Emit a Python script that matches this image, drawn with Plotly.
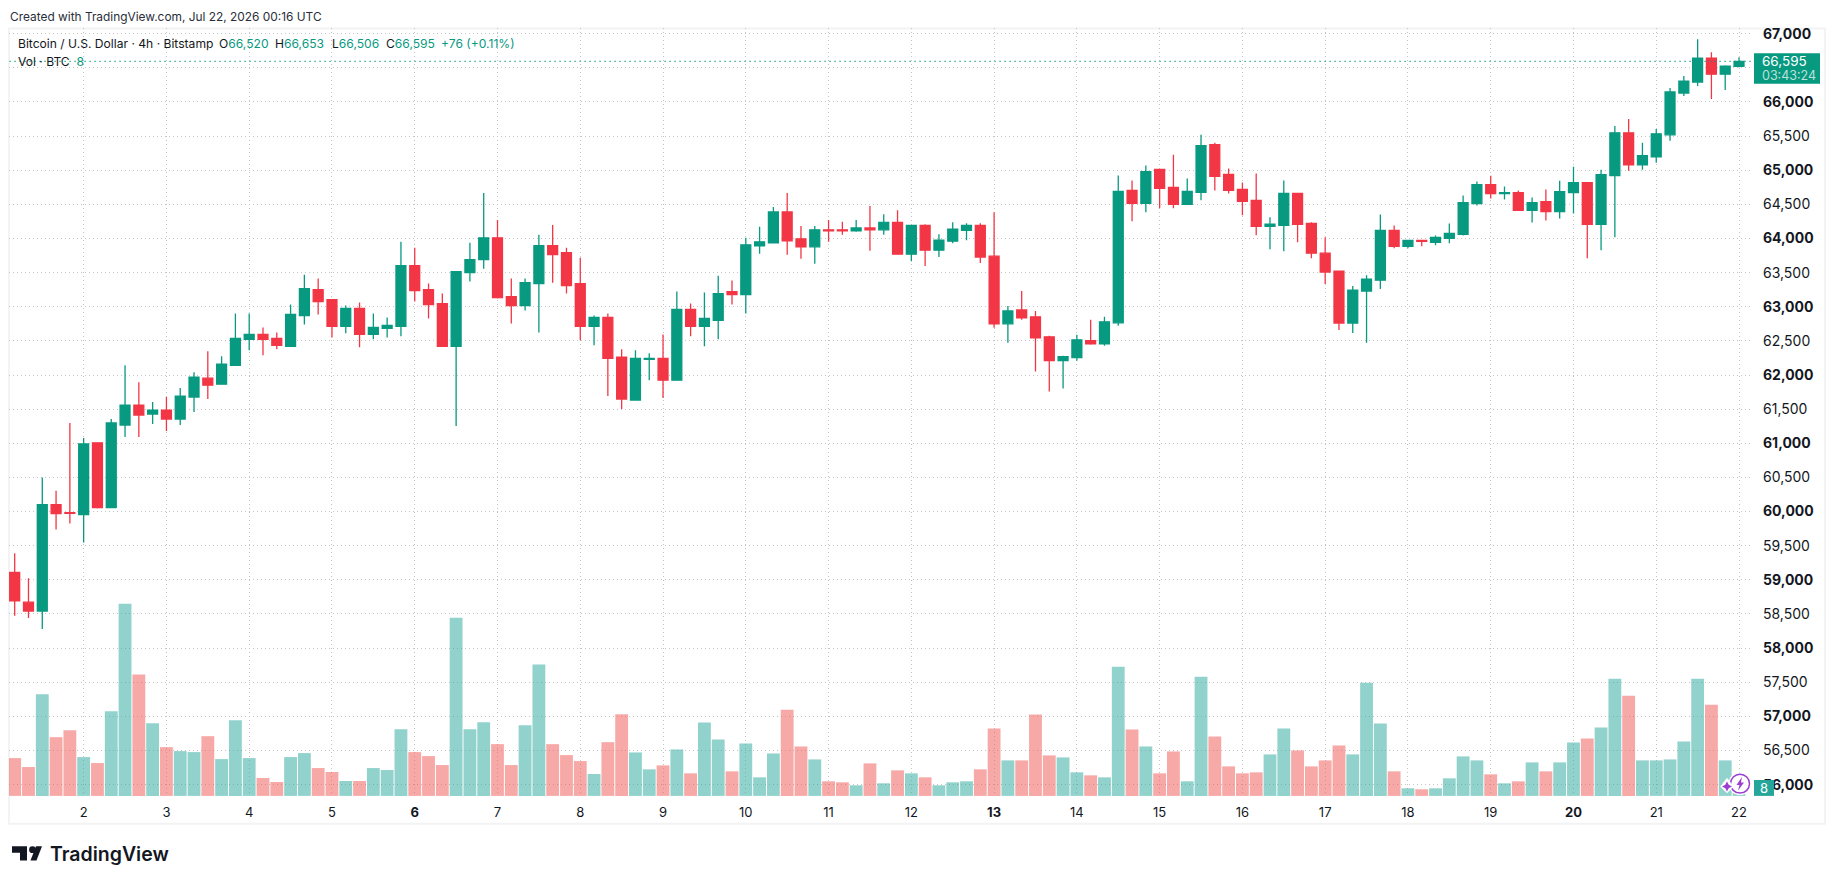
import pandas as pd
import plotly.graph_objects as go

WIDTH, HEIGHT = 1835, 886
TOP_OFFSET = 2.5
GREEN, RED = "#089981", "#F23645"
VOL_GREEN, VOL_RED = "rgba(38,166,154,0.5)", "rgba(239,83,80,0.5)"
INK = "#131722"
FONT = "Inter, 'Liberation Sans', sans-serif"

# 4-hour BTC/USD candles from Bitstamp, 1 July 04:00 UTC onwards
opens = [
    59110, 58673, 58542, 60102, 59985, 59956, 61006, 60058, 61268, 61560, 61429, 61487,
    61356, 61677, 61954, 61866, 62143, 62522, 62595, 62537, 62420, 62872, 63251, 63105,
    62712, 62974, 62595, 62683, 62712, 63601, 63251, 63047, 62420, 63499, 63689, 64009,
    63149, 63018, 63339, 63893, 63791, 63339, 62712, 62843, 62260, 61633, 62231, 62245,
    61925, 62960, 62712, 62799, 63222, 63178, 63893, 63937, 64388, 63995, 63878, 64126,
    64126, 64111, 64155, 64126, 64237, 63770, 64193, 63829, 63960, 64120, 64193, 63741,
    62750, 62954, 62852, 62560, 62210, 62254, 62502, 62458, 62764, 64703, 64514, 65010,
    64747, 64499, 64674, 65374, 64937, 64718, 64558, 64179, 64193, 64660, 64222, 63785,
    63520, 62762, 63229, 63389, 64118, 63885, 63972, 63943, 64002, 64060, 64512, 64789,
    64658, 64672, 64410, 64541, 64395, 64672, 64818, 64206, 64920, 65547, 65080, 65197,
    65518, 66130, 66291, 66640, 66407, 66520,
]
highs = [
    59388, 59023, 60500, 60306, 61297, 61079, 61006, 61356, 62143, 61895, 61604, 61677,
    61808, 62041, 62347, 62274, 62901, 62901, 62697, 62624, 63032, 63470, 63412, 63105,
    63018, 63062, 62901, 62843, 63951, 63864, 63339, 63193, 63513, 63936, 64665, 64272,
    63412, 63412, 64053, 64199, 63864, 63718, 62872, 62901, 62376, 62362, 62318, 62595,
    63222, 63047, 63208, 63455, 63383, 64009, 64170, 64461, 64665, 64184, 64184, 64272,
    64243, 64272, 64476, 64353, 64412, 64193, 64208, 64062, 64237, 64222, 64222, 64383,
    63012, 63231, 62939, 62575, 62283, 62589, 62808, 62852, 64922, 64849, 65068, 65010,
    65228, 64878, 65520, 65403, 65024, 64820, 64951, 64310, 64849, 64660, 64237, 64018,
    63520, 63302, 63462, 64351, 64191, 63972, 63972, 64045, 64220, 64629, 64833, 64920,
    64760, 64701, 64599, 64716, 64847, 65051, 64818, 65008, 65649, 65751, 65401, 65605,
    66203, 66378, 66918, 66728, 66538, 66653,
]
lows = [
    58474, 58440, 58279, 59737, 59825, 59548, 60044, 60058, 61093, 61093, 61283, 61181,
    61268, 61458, 61647, 61866, 62143, 62362, 62289, 62376, 62420, 62741, 62887, 62551,
    62610, 62406, 62522, 62551, 62566, 63076, 62828, 62420, 61254, 63368, 63558, 63120,
    62755, 62945, 62624, 63353, 63193, 62508, 62435, 61691, 61502, 61633, 61925, 61662,
    61925, 62566, 62420, 62522, 63033, 62901, 63776, 63937, 63762, 63703, 63630, 63951,
    64053, 64097, 63820, 64053, 63770, 63668, 63595, 63727, 63931, 63974, 63639, 62691,
    62473, 62808, 62050, 61758, 61802, 62210, 62444, 62429, 62720, 64251, 64383, 64441,
    64441, 64499, 64558, 64703, 64660, 64339, 64047, 63843, 63814, 63945, 63712, 63333,
    62660, 62616, 62471, 63258, 63856, 63856, 63885, 63900, 63929, 64045, 64483, 64585,
    64570, 64410, 64235, 64264, 64293, 64366, 63710, 63827, 64016, 64993, 65008, 65110,
    65430, 66087, 66232, 66043, 66174, 66506,
]
closes = [
    58693, 58542, 60102, 59971, 59975, 60991, 60058, 61297, 61560, 61414, 61487, 61356,
    61691, 61968, 61851, 62158, 62537, 62595, 62522, 62435, 62887, 63266, 63076, 62712,
    62974, 62595, 62697, 62726, 63601, 63237, 63032, 62420, 63513, 63689, 64009, 63135,
    63018, 63353, 63893, 63762, 63310, 62712, 62843, 62245, 61648, 62245, 62245, 61925,
    62960, 62712, 62828, 63193, 63178, 63907, 63951, 64388, 63965, 63878, 64126, 64111,
    64111, 64155, 64126, 64237, 63770, 64193, 63829, 63974, 64135, 64193, 63727, 62750,
    62939, 62837, 62546, 62210, 62268, 62516, 62458, 62779, 64689, 64514, 64980, 64733,
    64499, 64689, 65360, 64908, 64703, 64543, 64179, 64208, 64660, 64208, 63785, 63508,
    62762, 63243, 63404, 64118, 63885, 63972, 63958, 64016, 64074, 64526, 64789, 64658,
    64672, 64410, 64526, 64395, 64687, 64818, 64206, 64935, 65547, 65080, 65212, 65532,
    66145, 66305, 66640, 66407, 66524, 66595,
]
volumes = [
    114, 87, 306, 177, 198, 117, 99, 255, 579, 366, 219, 147,
    135, 132, 180, 111, 228, 114, 54, 42, 117, 129, 84, 72,
    45, 45, 84, 78, 201, 132, 120, 93, 537, 201, 222, 156,
    93, 213, 396, 156, 123, 105, 66, 162, 246, 131, 80, 92,
    140, 68, 221, 170, 74, 158, 56, 128, 260, 149, 110, 44,
    41, 32, 98, 38, 77, 68, 56, 32, 41, 44, 80, 203,
    107, 107, 245, 122, 116, 71, 62, 56, 389, 200, 149, 68,
    134, 44, 359, 179, 89, 68, 71, 125, 203, 137, 89, 107,
    152, 125, 341, 218, 74, 23, 20, 23, 53, 119, 107, 65,
    38, 44, 101, 74, 101, 161, 173, 206, 353, 302, 107, 107,
    110, 164, 353, 275, 107, 8,
]
day_labels = [str(d) for d in range(2, 23)]
bold_days = {"6", "13", "20"}
price_ticks = list(range(56000, 67001, 500))

times = pd.date_range("2026-07-01 04:00", periods=len(closes), freq="4h")
day_ticks = pd.date_range("2026-07-02", periods=len(day_labels), freq="D")
vol_colors = [VOL_GREEN if c >= o else VOL_RED for o, c in zip(opens, closes)]
grid_style = dict(griddash="1px,3px", gridcolor="#c4c4c4", gridwidth=1)

fig = go.Figure()
fig.add_trace(go.Bar(x=times, y=volumes, marker=dict(color=vol_colors, line_width=0),
                     yaxis="y", showlegend=False, hoverinfo="skip"))
fig.add_trace(go.Candlestick(
    x=times, open=opens, high=highs, low=lows, close=closes, yaxis="y2",
    increasing=dict(line=dict(color=GREEN, width=1.3), fillcolor=GREEN),
    decreasing=dict(line=dict(color=RED, width=1.3), fillcolor=RED),
    whiskerwidth=0, showlegend=False,
))


def px(x):
    return x / WIDTH


def py(y):
    return 1 - (y - TOP_OFFSET) / HEIGHT


def page_text(x, y, text, size, color=INK, anchor="left", **font):
    fig.add_annotation(xref="paper", yref="paper", x=px(x), y=py(y), text=text, showarrow=False,
                       xanchor=anchor, yanchor="middle", align=anchor,
                       font=dict(family=FONT, size=size, color=color, **font),
                       borderpad=0, borderwidth=0)


def page_path(points, **style):
    d = "M" + " L".join(f"{px(a):.5f},{py(b):.5f}" for a, b in points) + " Z"
    fig.add_shape(type="path", xref="paper", yref="paper", path=d, **style)


def page_rect(x0, y0, x1, y1, **style):
    fig.add_shape(type="rect", xref="paper", yref="paper", x0=px(x0), x1=px(x1),
                  y0=py(y0), y1=py(y1), **style)


def page_circle(cx, cy, r, **style):
    fig.add_shape(type="circle", xref="paper", yref="paper", x0=px(cx - r), x1=px(cx + r),
                  y0=py(cy - r), y1=py(cy + r), **style)


# Outer frame around chart and axes
page_rect(9, 27, 1825, 826, line=dict(color="#f3f3f3", width=2), layer="below")

# Last-price line and its tag on the price scale
fig.add_shape(type="line", xref="x", yref="y2", x0=times[0] - pd.Timedelta(hours=3),
              x1="2026-07-22 03:46", y0=closes[-1], y1=closes[-1],
              line=dict(color=GREEN, width=1, dash="1.5px,3.5px"), layer="above")
page_rect(1754, 52, 1820, 82.5, fillcolor=GREEN, line_width=0, layer="above")
page_text(1762, 59.5, f"{closes[-1]:,}", 13.5, "#ffffff")
page_text(1762, 74, "03:43:24", 12.5, "rgba(255,255,255,0.72)")

# Volume tag and the purple badge over the last bar
page_rect(1754, 782, 1774, 798, fillcolor="#26a69a", line_width=0, layer="above")
page_text(1764, 790.5, f"{volumes[-1]}", 13, "#ffffff", anchor="center")
page_circle(1740, 785.7, 11.5, fillcolor="rgba(255,255,255,0.9)", line_width=0, layer="above")
page_circle(1740, 785.7, 9.5, fillcolor="rgba(255,255,255,0)",
            line=dict(color="#9c3fd0", width=1.5), layer="above")
page_path([(1742, 779), (1736.5, 787), (1739.5, 787), (1738, 792.5), (1744, 784.5), (1741, 784.5)],
          fillcolor="#9c3fd0", line_width=0, layer="above")
page_path([(1727, 781.5), (1732.5, 788.5), (1727, 794), (1721.5, 788.5)],
          fillcolor="rgba(255,255,255,0.95)", line=dict(color="rgba(255,255,255,0.95)", width=2),
          layer="above")
page_path([(1727, 783.5), (1728.7, 786.8), (1732, 788.5), (1728.7, 790.2), (1727, 793.5),
           (1725.3, 790.2), (1722, 788.5), (1725.3, 786.8)],
          fillcolor="#9c3fd0", line_width=0, layer="above")

# Header, pane legend and wordmark
page_text(9.5, 15.5, "Created with TradingView.com, Jul 22, 2026 00:16 UTC", 11.9, "#2a2e39")


def val(s):
    return f'<span style="color:{GREEN}">{s}</span>'


LEGEND_SIZE = 12.1
page_text(18, 42, "Bitcoin / U.S. Dollar · 4h · Bitstamp", LEGEND_SIZE)
page_text(219, 42, f"O{val(f'{opens[-1]:,}')}", LEGEND_SIZE)
page_text(275, 42, f"H{val(f'{highs[-1]:,}')}", LEGEND_SIZE)
page_text(332, 42, f"L{val(f'{lows[-1]:,}')}", LEGEND_SIZE)
page_text(386, 42, f"C{val(f'{closes[-1]:,}')}", LEGEND_SIZE)
page_text(441, 42, val("+76 (+0.11%)"), LEGEND_SIZE)
page_text(18, 60, f"Vol · BTC  {val(volumes[-1])}", LEGEND_SIZE)

page_path([(12, 848.5), (27, 848.5), (27, 863), (20, 863), (20, 855), (12, 855)],
          fillcolor=INK, line_width=0, layer="above")
page_path([(30.5, 863), (36.5, 863), (42, 848.5), (36, 848.5)],
          fillcolor=INK, line_width=0, layer="above")
page_circle(32.5, 852, 3.4, fillcolor=INK, line_width=0, layer="above")
page_text(49.5, 856.5, "TradingView", 19.5, INK, weight=600)

plot_left, plot_right, plot_top, plot_bottom = 9, 1752, 27, 798
fig.update_layout(
    width=WIDTH, height=HEIGHT, autosize=False, margin=dict(l=0, r=0, t=0, b=0),
    paper_bgcolor="#ffffff", plot_bgcolor="#ffffff", showlegend=False,
    bargap=0.07, boxgap=0.28, boxgroupgap=0.0,
    font=dict(family=FONT, color=INK),
    xaxis=dict(
        domain=[px(plot_left), px(plot_right)], type="date",
        range=["2026-07-01 02:21", "2026-07-22 03:46"], rangeslider=dict(visible=False),
        tickvals=list(day_ticks),
        ticktext=[f"<b>{d}</b>" if d in bold_days else d for d in day_labels],
        ticks="", ticklabelstandoff=7, tickfont=dict(size=13, color=INK, family=FONT),
        showline=False, zeroline=False, showgrid=True, **grid_style,
    ),
    yaxis=dict(domain=[py(plot_bottom), py(plot_top)], range=[0, 2313], visible=False,
               showgrid=False, zeroline=False, fixedrange=True),
    yaxis2=dict(
        domain=[py(plot_bottom), py(plot_top)], overlaying="y", side="right", anchor="x",
        range=[55835, 67077], tickvals=price_ticks,
        ticktext=[f"<b>{p:,}</b>" if p % 1000 == 0 else f"{p:,}" for p in price_ticks],
        ticks="", ticklabelstandoff=10, tickfont=dict(size=14, color=INK, family=FONT),
        showline=False, zeroline=False, showgrid=True, **grid_style,
    ),
)

fig.write_html("out.html")
